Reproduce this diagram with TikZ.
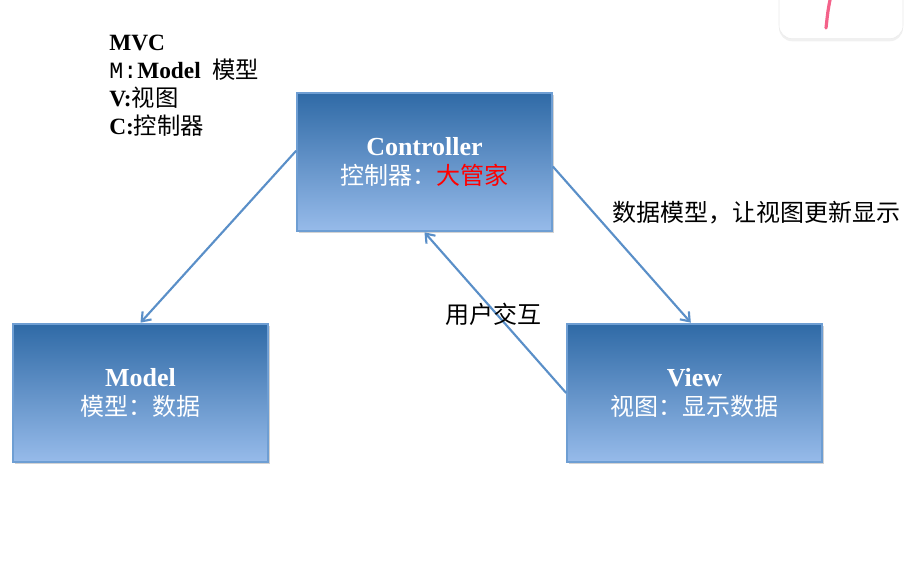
\documentclass[tikz,border=0pt]{standalone}
\usepackage{fontspec}
\setmainfont{Liberation Serif}
\setmonofont{Liberation Mono}
\newfontfamily\cjk{Noto Sans CJK SC}
\usetikzlibrary{shadows,arrows.meta}
\definecolor{boxtop}{HTML}{2F6AA6}
\definecolor{boxbot}{HTML}{97BBEA}
\definecolor{boxedge}{HTML}{6E9ED3}
\definecolor{linkblue}{HTML}{5A8FC8}
\definecolor{pinkpen}{HTML}{F4628A}
\tikzset{
  mvcbox/.style={rectangle, minimum width=191pt, minimum height=104pt,
    top color=boxtop, bottom color=boxbot, draw=boxedge, line width=1.5pt,
    text=white, align=center, font=\fontsize{18}{22}\selectfont,
    drop shadow={opacity=0.35, shadow xshift=1.5pt, shadow yshift=-1.5pt}},
  link/.style={draw=linkblue, line width=1.6pt, -{Straight Barb[length=6pt,width=9pt]}},
  lbl/.style={font=\fontsize{18}{20}\selectfont\cjk, inner sep=0pt}
}
\newcommand{\ttl}[1]{{\fontsize{19.5}{22}\selectfont\bfseries #1}}
\begin{document}
\begin{tikzpicture}[x=0.75pt,y=-0.75pt]
      \useasboundingbox (0,0) rectangle (906,570);
      \clip (0,0) rectangle (906,570);
      % corner of a card cut off by the screenshot
      \node[draw=black!8, fill=white, rounded corners=10pt, minimum width=93pt, minimum height=52pt,
        drop shadow={opacity=0.12, shadow xshift=0pt, shadow yshift=-2pt}] (card) at (841,4) {};
      \draw[pinkpen, line width=2.4pt, line cap=round] (830,0) .. controls (828,10) .. (826,28);
      % key
      \node[anchor=north west, align=left, inner sep=0pt, font=\fontsize{17.5}{21}\selectfont] (key) at (109,35)
        {\textbf{MVC}\\ {\ttfamily M:}\textbf{Model}\ \ {\cjk 模型}\\ \textbf{V:}{\cjk 视图}\\ \textbf{C:}{\cjk 控制器}};
      % the three parts
      \node[mvcbox] (ctrl) at (424.5,162) {\ttl{Controller}\\ {\cjk 控制器：\textcolor{red}{大管家}}};
      \node[mvcbox] (model) at (140.5,393) {\ttl{Model}\\ {\cjk 模型：数据}};
      \node[mvcbox] (view) at (694.5,393) {\ttl{View}\\ {\cjk 视图：显示数据}};
      \draw[link] (ctrl.175) -- (model.north);
      \draw[link] (ctrl.-2) -- (view.93);
      \draw[link] (view.west) -- (ctrl.south);
      \node[lbl, anchor=west] (showlbl) at (612,213) {数据模型，让视图更新显示};
      \node[lbl] (userlbl) at (493,314) {用户交互};
    \end{tikzpicture}
\end{document}
